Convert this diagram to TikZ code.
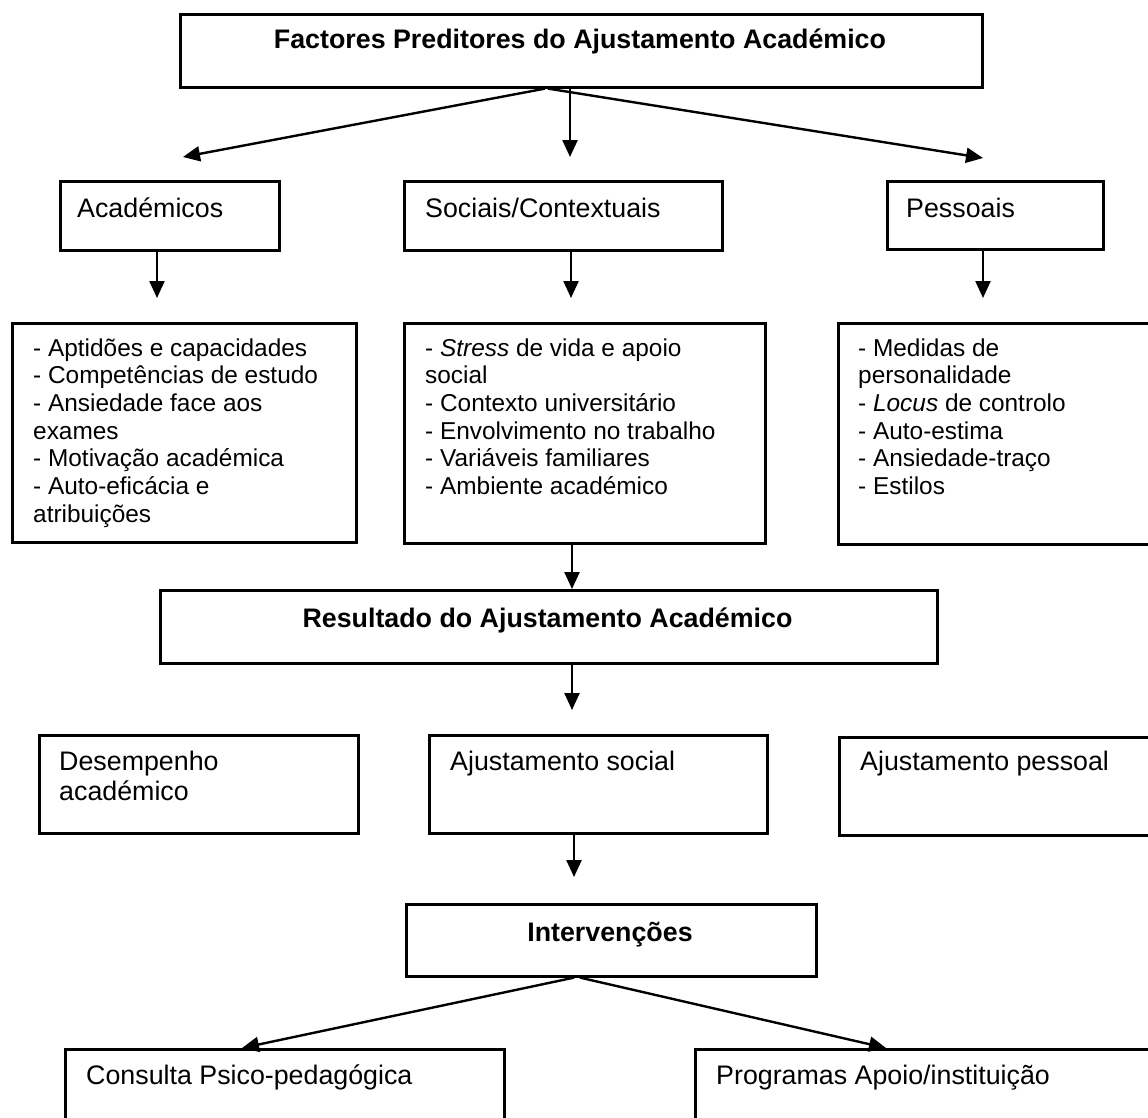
\documentclass[tikz,border=0pt]{standalone}
\usepackage{fontspec}
\setmainfont{Liberation Sans}
\usetikzlibrary{arrows.meta}
\begin{document}
\begin{tikzpicture}[x=1pt,y=-1pt,
  box/.style={draw, line width=2.6pt, rectangle, inner sep=0pt, anchor=north west},
  conn/.style={line width=2.4pt, -{Triangle[length=17pt,width=15pt]}},
  big/.style={font=\fontsize{26.8}{30}\selectfont, inner sep=0pt},
  lst/.style={font=\fontsize{24.4}{27.7}\selectfont, inner sep=0pt, anchor=base west}]
\useasboundingbox[fill=white] (0,0) rectangle (1148,1117);
% boxes
\node[box, minimum width=802, minimum height=73] (top) at (179,13) {};
\node[box, minimum width=219, minimum height=69] (acad) at (59,180) {};
\node[box, minimum width=318, minimum height=69] (soc) at (403,180) {};
\node[box, minimum width=216, minimum height=68] (pess) at (886,180) {};
\node[box, minimum width=344, minimum height=219] (lA) at (11,322) {};
\node[box, minimum width=361, minimum height=220] (lB) at (403,322) {};
\node[box, minimum width=330, minimum height=221] (lC) at (837,322) {};
\node[box, minimum width=777, minimum height=73] (res) at (159,589) {};
\node[box, minimum width=319, minimum height=98] (des) at (38,734) {};
\node[box, minimum width=338, minimum height=98] (ajs) at (428,734) {};
\node[box, minimum width=330, minimum height=98] (ajp) at (838,736) {};
\node[box, minimum width=410, minimum height=72] (int) at (405,903) {};
\node[box, minimum width=439, minimum height=110] (con) at (64,1048) {};
\node[box, minimum width=470, minimum height=110] (prog) at (694,1048) {};
% texts
\node[big, anchor=base] (ttop) at (580,48) {\bfseries Factores Preditores do Ajustamento Académico};
\node[big, anchor=base west] (tacad) at (77,217) {Académicos};
\node[big, anchor=base west] (tsoc) at (425,217) {Sociais/Contextuais};
\node[big, anchor=base west] (tpess) at (906,217) {Pessoais};
\node[lst] (tA) at (33,356) {\begin{tabular}[t]{@{}l@{}}- Aptidões e capacidades\\- Competências de estudo\\- Ansiedade face aos\\exames\\- Motivação académica\\- Auto-eficácia e\\atribuições\end{tabular}};
\node[lst] (tB) at (425,356) {\begin{tabular}[t]{@{}l@{}}- \textit{Stress} de vida e apoio\\social\\- Contexto universitário\\- Envolvimento no trabalho\\- Variáveis familiares\\- Ambiente académico\end{tabular}};
\node[lst] (tC) at (858,356) {\begin{tabular}[t]{@{}l@{}}- Medidas de\\personalidade\\- \textit{Locus} de controlo\\- Auto-estima\\- Ansiedade-traço\\- Estilos\end{tabular}};
\node[big, anchor=base] (tres) at (547.5,627) {\bfseries Resultado do Ajustamento Académico};
\node[big, anchor=base west] (tdes) at (59,770) {\begin{tabular}[t]{@{}l@{}}Desempenho\\académico\end{tabular}};
\node[big, anchor=base west] (tajs) at (450,770) {Ajustamento social};
\node[big, anchor=base west] (tajp) at (860,770) {Ajustamento pessoal};
\node[big, anchor=base] (tint) at (610,941) {\bfseries Intervenções};
\node[big, anchor=base west] (tcon) at (86,1084) {Consulta Psico-pedagógica};
\node[big, anchor=base west] (tprog) at (716,1084) {Programas Apoio/instituição};
% free ends of connectors
\coordinate (ea) at (183,157);
\coordinate (es) at (570,157);
\coordinate (ep) at (983,158);
\coordinate (eA) at (157,298);
\coordinate (eB) at (571,298);
\coordinate (eC) at (983,298);
\coordinate (eR) at (572,710);
\coordinate (eI) at (574,877);
\coordinate (ec) at (242,1048);
\coordinate (eg) at (886,1048);
% connectors
\draw[conn] (top.south -| 545,0) -- (ea);
\draw[conn] (top.south -| 570,0) -- (es);
\draw[conn] (top.south -| 548,0) -- (ep);
\draw[conn] (acad.south -| eA) -- (eA);
\draw[conn] (soc.south -| eB) -- (eB);
\draw[conn] (pess.south -| eC) -- (eC);
\draw[conn] (lB.south -| 572,0) -- (res.north -| 572,0);
\draw[conn] (res.south -| eR) -- (eR);
\draw[conn] (ajs.south -| eI) -- (eI);
\draw[conn] (int.south -| 574,0) -- (ec);
\draw[conn] (int.south -| 580,0) -- (eg);
\end{tikzpicture}
\end{document}
